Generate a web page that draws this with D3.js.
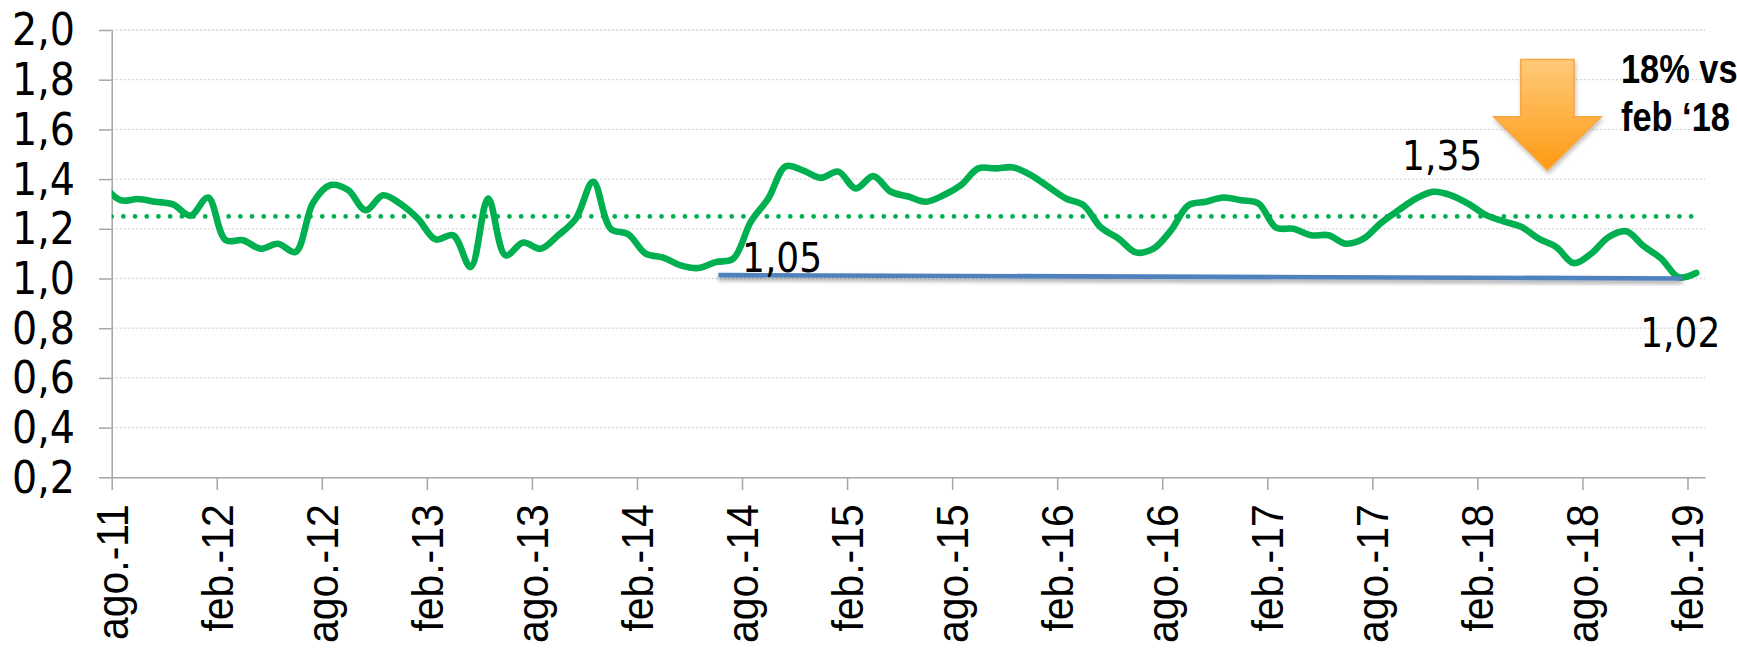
<!DOCTYPE html>
<html>
<head>
<meta charset="utf-8">
<script src="https://cdn.jsdelivr.net/npm/d3@7"></script>
<style>
  body { margin: 0; background: #fff; }
  svg { display: block; }
</style>
</head>
<body>
<svg id="chart" width="1737" height="648"></svg>
<script>
// Monthly values, plotted mid-month, from jul-11 to feb-19
// (the jul-11 point sits left of the axis and is clipped)
const values = [
  1.38, 1.315, 1.32, 1.309, 1.298, 1.253, 1.326, 1.155, 1.154, 1.12,
  1.14, 1.107, 1.305, 1.376, 1.356, 1.275, 1.335, 1.30, 1.24, 1.157,
  1.174, 1.046, 1.322, 1.093, 1.145, 1.12, 1.174, 1.24, 1.389, 1.20,
  1.178, 1.10, 1.084, 1.053, 1.042, 1.066, 1.08, 1.228, 1.322, 1.452,
  1.434, 1.405, 1.43, 1.362, 1.412, 1.349, 1.33, 1.309, 1.335, 1.376,
  1.443, 1.443, 1.447, 1.416, 1.369, 1.322, 1.295, 1.205, 1.161, 1.105,
  1.12, 1.194, 1.295, 1.309, 1.326, 1.315, 1.302, 1.205, 1.20, 1.174,
  1.174, 1.14, 1.16, 1.224, 1.275, 1.322, 1.349, 1.335, 1.30, 1.255,
  1.23, 1.208, 1.16, 1.127, 1.062, 1.10, 1.167, 1.19, 1.13, 1.08,
  1.005, 1.022
];

// Average level (dotted line)
const avgLevel = 1.25;

// X axis tick labels, every 6 months from ago-11
const tickLabels = [
  "ago.-11", "feb.-12", "ago.-12", "feb.-13", "ago.-13", "feb.-14",
  "ago.-14", "feb.-15", "ago.-15", "feb.-16", "ago.-16", "feb.-17",
  "ago.-17", "feb.-18", "ago.-18", "feb.-19"
];

// Y axis ticks
const yTicks = [0.2, 0.4, 0.6, 0.8, 1.0, 1.2, 1.4, 1.6, 1.8, 2.0];

// Flat support line under the series (month position, value)
const supportLine = [[34.65, 1.0135], [89.7, 1.0]];

// Value callouts (month position, value)
const callouts = [
  { text: "1,05", m: 36.0, v: 1.027 },
  { text: "1,35", m: 73.7, v: 1.436 },
  { text: "1,02", m: 87.3, v: 0.725 }
];

const svg = d3.select('#chart');
const plotLeft = 111.7, plotRight = 1705, plotTop = 30, plotBottom = 477.3;

// months since ago-11 -> pixels
const x = d3.scaleLinear().domain([0, 91]).range([plotLeft, plotRight]);
const y = d3.scaleLinear().domain([0.2, 2.0]).range([plotBottom, plotTop]);

const es = d3.formatLocale({ decimal: ",", thousands: ".", grouping: [3], currency: ["", "€"] });
const fmt = es.format(".1f");

const numFont = "'DejaVu Sans Condensed', 'DejaVu Sans', sans-serif";

const defs = svg.append('defs');
defs.append('clipPath').attr('id', 'plot-clip')
  .append('rect')
  .attr('x', plotLeft).attr('y', 0)
  .attr('width', plotRight - plotLeft).attr('height', plotBottom);

const shadow = defs.append('filter').attr('id', 'shadow')
  .attr('x', '-10%').attr('y', '-200%').attr('width', '120%').attr('height', '500%');
shadow.append('feDropShadow')
  .attr('dx', 0).attr('dy', 3).attr('stdDeviation', 2)
  .attr('flood-color', '#000').attr('flood-opacity', 0.35);

const arrowShadow = defs.append('filter').attr('id', 'arrow-shadow')
  .attr('x', '-30%').attr('y', '-30%').attr('width', '160%').attr('height', '160%');
arrowShadow.append('feDropShadow')
  .attr('dx', 1).attr('dy', 3).attr('stdDeviation', 2)
  .attr('flood-color', '#000').attr('flood-opacity', 0.25);

const grad = defs.append('linearGradient').attr('id', 'arrow-grad')
  .attr('x1', 0).attr('y1', 0).attr('x2', 0).attr('y2', 1);
grad.append('stop').attr('offset', '0%').attr('stop-color', '#FFCA7A');
grad.append('stop').attr('offset', '100%').attr('stop-color', '#FF9A12');

// Gridlines
svg.append('g')
  .selectAll('line')
  .data(yTicks.filter(d => d > 0.2))
  .enter()
  .append('line')
  .attr('x1', plotLeft).attr('x2', plotRight)
  .attr('y1', d => y(d)).attr('y2', d => y(d))
  .attr('stroke', '#D4D4D4')
  .attr('stroke-width', 1.3)
  .attr('stroke-dasharray', '2,2');

// Y axis
const yAxis = svg.append('g')
  .attr('transform', `translate(${plotLeft},0)`)
  .call(d3.axisLeft(y).tickValues(yTicks).tickFormat(fmt).tickSize(12.7).tickSizeOuter(0).tickPadding(24));
yAxis.select('.domain').attr('stroke', '#A6A6A6').attr('stroke-width', 1.5);
yAxis.selectAll('.tick line').attr('stroke', '#A6A6A6').attr('stroke-width', 1.5);
yAxis.selectAll('.tick text')
  .attr('font-family', numFont)
  .attr('font-stretch', 'condensed')
  .attr('font-size', 44)
  .attr('fill', '#000')
  .attr('dy', '0.34em');

// X axis
const xTickVals = tickLabels.map((_, i) => i * 6);
const xAxis = svg.append('g')
  .attr('transform', `translate(0,${plotBottom})`)
  .call(d3.axisBottom(x).tickValues(xTickVals).tickFormat((d, i) => tickLabels[i]).tickSize(12.7).tickSizeOuter(0));
xAxis.select('.domain').attr('stroke', '#A6A6A6').attr('stroke-width', 1.5);
xAxis.selectAll('.tick line').attr('stroke', '#A6A6A6').attr('stroke-width', 1.5);
xAxis.selectAll('.tick text')
  .attr('font-family', "'Liberation Sans', Arial, sans-serif")
  .attr('font-size', 44)
  .attr('fill', '#000')
  .attr('text-anchor', 'end')
  .attr('transform', 'rotate(-90) scale(0.93,1)')
  .attr('x', -29)
  .attr('y', 0)
  .attr('dy', '0.35em');

const plot = svg.append('g').attr('clip-path', 'url(#plot-clip)');

// Dotted average line
plot.append('line')
  .attr('x1', x(-0.5)).attr('x2', x(values.length - 1.5))
  .attr('y1', y(avgLevel)).attr('y2', y(avgLevel))
  .attr('stroke', '#00B050')
  .attr('stroke-width', 4.8)
  .attr('stroke-linecap', 'round')
  .attr('stroke-dasharray', '0 11.7')
  .attr('stroke-dashoffset', -8.7);

// Support line with shadow
svg.append('line')
  .attr('x1', x(supportLine[0][0])).attr('y1', y(supportLine[0][1]))
  .attr('x2', x(supportLine[1][0])).attr('y2', y(supportLine[1][1]))
  .attr('stroke', '#4F81BD')
  .attr('stroke-width', 4.6)
  .attr('filter', 'url(#shadow)');

// Main series
const line = d3.line()
  .x((d, i) => x(i - 0.5))
  .y(d => y(d))
  .curve(d3.curveCatmullRom.alpha(0.5));

plot.append('path')
  .datum(values)
  .attr('d', line)
  .attr('fill', 'none')
  .attr('stroke', '#00B050')
  .attr('stroke-width', 6.6)
  .attr('stroke-linecap', 'round')
  .attr('stroke-linejoin', 'round');

// Callouts
svg.selectAll('.callout')
  .data(callouts)
  .enter()
  .append('text')
  .attr('class', 'callout')
  .attr('x', d => x(d.m))
  .attr('y', d => y(d.v))
  .attr('font-family', numFont)
  .attr('font-stretch', 'condensed')
  .attr('font-size', 40)
  .attr('fill', '#000')
  .text(d => d.text);

// Down arrow
const tipX = x(82.0), tipY = y(1.436);
const shaftW = 26.6, headW = 53.7, headH = 53.3, totalH = 110.7;
const arrowPts = [
  [tipX - shaftW, tipY - totalH],
  [tipX + shaftW, tipY - totalH],
  [tipX + shaftW, tipY - headH],
  [tipX + headW, tipY - headH],
  [tipX, tipY],
  [tipX - headW, tipY - headH],
  [tipX - shaftW, tipY - headH]
];
svg.append('path')
  .attr('d', d3.line()(arrowPts) + 'Z')
  .attr('fill', 'url(#arrow-grad)')
  .attr('stroke', '#F7A444')
  .attr('stroke-width', 1.5)
  .attr('filter', 'url(#arrow-shadow)');

// Change note
const note = svg.append('text')
  .attr('transform', `translate(${x(86.2)},0) scale(0.86,1)`)
  .attr('font-family', "'Liberation Sans', Arial, sans-serif")
  .attr('font-weight', 'bold')
  .attr('font-size', 40)
  .attr('fill', '#000');
note.append('tspan').attr('x', 0).attr('y', y(1.785)).text('18% vs');
note.append('tspan').attr('x', 0).attr('y', y(1.595)).text('feb \u201818');
</script>
</body>
</html>
